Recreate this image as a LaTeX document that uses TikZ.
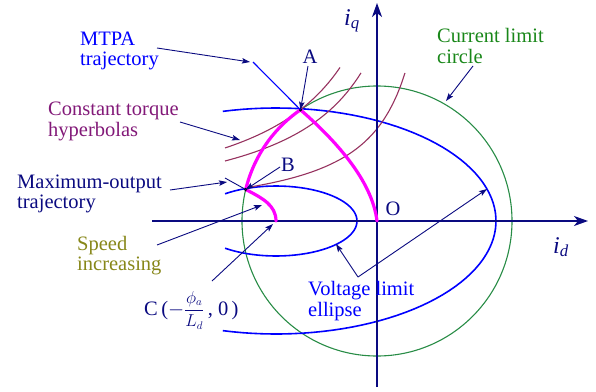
\documentclass[tikz,border=0pt]{standalone}
\usepackage{fontspec}
\setmainfont{Liberation Serif}
\usetikzlibrary{arrows.meta}
\definecolor{navyc}{RGB}{10,10,128}
\definecolor{blu}{RGB}{0,0,255}
\definecolor{grn}{RGB}{40,140,70}
\definecolor{grntxt}{RGB}{25,135,25}
\definecolor{purp}{RGB}{130,25,120}
\definecolor{hyp}{RGB}{150,50,95}
\definecolor{oliv}{RGB}{135,135,25}
\definecolor{mag}{RGB}{255,0,255}
\tikzset{
  lbl/.style={inner sep=0pt, anchor=north west, align=left, font=\fontsize{20.5}{20}\selectfont},
  arr/.style={navyc, line width=0.9pt, -{Stealth[length=8pt,width=5.5pt,inset=1.5pt]}},
  axis/.style={navyc, line width=1.5pt, -{Stealth[length=14pt,width=10pt,inset=4pt]}},
  ell/.style={blu, line width=1.6pt},
  hypc/.style={hyp, line width=1.1pt},
  traj/.style={mag, line width=3.2pt, line join=round, line cap=round},
  dotc/.style={circle, fill=black, inner sep=0pt, minimum size=3.5pt},
}
\begin{document}
\begin{tikzpicture}[x=1pt,y=-1pt]
\useasboundingbox (0,0) rectangle (596,391);
% key points
\coordinate (O) at (377,221);
\coordinate (A) at (300.5,109.8);
\coordinate (B) at (245.7,189.5);
\coordinate (C) at (276,221);
% current limit circle
\draw[grn, line width=1.1pt] (O) circle[radius=135];
% voltage limit ellipses
\draw[ell] plot[domain=-104:104, samples=80] ({276+220*cos(\x)},{221-113*sin(\x)});
\draw[ell] plot[domain=-129:129, samples=60] ({276+81*cos(\x)},{221-35*sin(\x)});
% constant torque hyperbolas
\draw[hypc] plot[domain=225:340, samples=40] (\x,{221-238/(1+0.01486*(377-\x))});
\draw[hypc] plot[domain=225:361, samples=40] (\x,{221-179/(1+0.01304*(377-\x))});
\draw[hypc] plot[domain=245.7:405, samples=40] (\x,{221-92.2/(1+0.01348*(377-\x))});
% axes
\coordinate (xL) at (152,221);
\coordinate (xR) at (588,221);
\coordinate (yB) at (377,387);
\coordinate (yT) at (377,3);
\draw[axis] (xL) -- (xR);
\draw[axis] (yB) -- (yT);
% trajectories
\draw[traj] (O) .. controls (372,180) and (335,140) .. (A)
  -- plot[domain=124.5:166.5, samples=30] ({377+135*cos(\x)},{221-135*sin(\x)})
  .. controls (262,198) and (276,205) .. (C);
\node[dotc] (Ad) at (A) {};
\node[dotc] (Bd) at (B) {};
% labels
\node[lbl, text=blu] (mtpa) at (80,31) {\strut MTPA\\\strut trajectory};
\node[lbl, text=purp] (ctq) at (48,101) {\strut Constant torque\\\strut hyperbolas};
\node[lbl, text=navyc] (mot) at (17,174) {\strut Maximum-output\\\strut trajectory};
\node[lbl, text=oliv] (spd) at (77,236) {\strut Speed\\\strut increasing};
\node[lbl, text=grntxt] (cur) at (437,28) {\strut Current limit\\\strut circle};
\node[lbl, text=blu] (vol) at (308,281) {\strut Voltage limit\\\strut ellipse};
\node[inner sep=0pt, anchor=base west, text=navyc, font=\fontsize{20.5}{20}\selectfont] (Cl) at (144,315) {C\,($-${\fontsize{16}{16}\selectfont$\displaystyle\frac{\phi_a}{L_d}$}\,, 0\,)};
\node[inner sep=0pt, anchor=base, text=navyc, font=\fontsize{20.5}{20}\selectfont] (Al) at (310,63) {A};
\node[inner sep=0pt, anchor=base, text=navyc, font=\fontsize{20.5}{20}\selectfont] (Bl) at (288,171) {B};
\node[inner sep=0pt, anchor=base, text=navyc, font=\fontsize{20.5}{20}\selectfont] (Ol) at (393,215) {O};
\node[inner sep=0pt, anchor=base west, text=navyc, font=\fontsize{24}{24}\selectfont] (iq) at (344,25) {\textit{i}\textsubscript{\textit{q}}};
\node[inner sep=0pt, anchor=base west, text=navyc, font=\fontsize{24}{24}\selectfont] (id) at (553,253) {\textit{i}\textsubscript{\textit{d}}};
% connector endpoints
\coordinate (m1) at (157,48);
\coordinate (m2) at (250,62);
\coordinate (m3) at (253,62);
\coordinate (c1) at (180,122);
\coordinate (c2) at (240,140);
\coordinate (x1) at (170,190);
\coordinate (x2) at (227,182);
\coordinate (x3) at (225,178);
\coordinate (b1) at (280,167);
\coordinate (a1) at (308,66);
\coordinate (s1) at (157,245);
\coordinate (s2) at (262,205);
\coordinate (k1) at (212,281);
\coordinate (k2) at (273,224);
\coordinate (v0) at (358,277);
\coordinate (v1) at (336,244);
\coordinate (v2) at (487,189);
\coordinate (g1) at (473,66);
\coordinate (g2) at (446,101);
% connectors
\draw[arr] (m1) -- (m2);
\draw[blu, line width=1.1pt] (m3) -- (A);
\draw[arr] (c1) -- (c2);
\draw[arr] (x1) -- (x2);
\draw[navyc, line width=0.9pt] (x3) -- (B);
\draw[arr] (b1) -- (B);
\draw[arr] (a1) -- (A);
\draw[arr] (s1) -- (s2);
\draw[arr] (k1) -- (k2);
\draw[arr] (v0) -- (v1);
\draw[arr] (v0) -- (v2);
\draw[arr] (g1) -- (g2);
\end{tikzpicture}
\end{document}
